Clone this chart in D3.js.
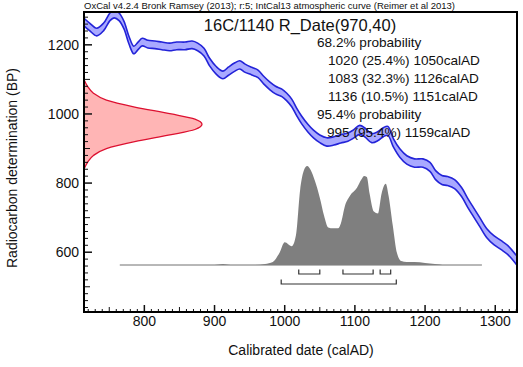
<!DOCTYPE html>
<html lang="en">
<head>
<meta charset="UTF-8">
<title>R_Date calibration</title>
<script src="https://d3js.org/d3.v7.min.js"></script>
<style>
    body { margin: 0; background: #fff; font-family: "Liberation Sans", Arial, sans-serif; }
    svg { display: block; }
    text { fill: #111; }
</style>
</head>
<body>
<svg id="chart" width="523" height="367"></svg>
<script>
// IntCal13 curve (cal AD, BP, 1 sigma)
const calYears = [714, 722, 732, 742, 751, 757, 764, 771, 778, 785, 791, 797, 805, 815, 825, 836, 846, 858, 868, 876,
    885, 893, 902, 912, 920, 929, 936, 943, 953, 962, 970, 979, 987, 996, 1003, 1010, 1017, 1024, 1033, 1041,
    1050, 1060, 1070, 1080, 1090, 1098, 1107, 1115, 1124, 1133, 1141, 1147, 1155, 1164, 1174, 1185, 1197, 1207, 1215, 1224,
    1232, 1242, 1252, 1261, 1269, 1278, 1288, 1298, 1308, 1318, 1331];
const calBP = [1266, 1252, 1237, 1252, 1281, 1289, 1281, 1257, 1214, 1185, 1197, 1208, 1202, 1200, 1197, 1194, 1197, 1197, 1200, 1194,
    1179, 1150, 1127, 1113, 1124, 1136, 1142, 1133, 1124, 1116, 1098, 1081, 1069, 1061, 1049, 1032, 1006, 983, 959, 942,
    928, 919, 922, 928, 933, 942, 954, 945, 930, 936, 948, 951, 916, 887, 867, 858, 858, 847, 823, 809,
    806, 797, 774, 742, 716, 687, 655, 635, 621, 606, 575];
const calSigma = [11, 11, 11, 11, 11, 11, 11, 11, 11, 11, 11, 11, 11, 11, 11, 11, 11, 11, 11, 11,
    11, 11, 11, 11, 12, 12, 12, 12, 11, 11, 11, 11, 11, 11, 11, 11, 11, 11, 11, 11,
    11, 12, 12, 12, 12, 12, 13, 13, 13, 13, 13, 13, 12, 12, 12, 12, 12, 13, 13, 13,
    13, 13, 13, 13, 13, 13, 13, 13, 13, 13, 13];

// Radiocarbon measurement 970 +/- 40 BP, relative density
const dateBP = [1100, 1080, 1060, 1040, 1020, 1000, 985, 970, 955, 940, 920, 900, 880, 860, 840];
const dateDensity = [0.0, 0.03, 0.08, 0.19, 0.43, 0.74, 0.94, 1.0, 0.94, 0.74, 0.43, 0.19, 0.08, 0.03, 0.0];

// Calibrated probability, relative
const postYears = [765, 880, 900, 912, 923, 958, 972, 983, 993, 1000, 1010, 1016, 1022, 1027, 1032, 1037, 1043, 1050, 1056, 1062,
    1069, 1076, 1080, 1086, 1093, 1103, 1109, 1113, 1117, 1121, 1127, 1133, 1138, 1144, 1148, 1154, 1160, 1166, 1174, 1185,
    1200, 1214, 1228, 1281];
const postProb = [0, 0, 0, 0.01, 0, 0, 0.01, 0.03, 0.13, 0.23, 0.19, 0.30, 0.76, 0.95, 1.0, 0.96, 0.85, 0.68, 0.50, 0.38,
    0.37, 0.37, 0.42, 0.60, 0.70, 0.78, 0.86, 0.90, 0.89, 0.72, 0.54, 0.52, 0.72, 0.82, 0.70, 0.40, 0.12, 0.04, 0.03, 0.03,
    0.02, 0.01, 0, 0];

const ranges68 = [[1020, 1050], [1083, 1126], [1136, 1151]];
const ranges95 = [[995, 1159]];

const headerText = "OxCal v4.2.4 Bronk Ramsey (2013); r:5; IntCal13 atmospheric curve (Reimer et al 2013)";
const titleText = "16C/1140 R_Date(970,40)";
const rangeLines = ["68.2% probability", "1020 (25.4%) 1050calAD", "1083 (32.3%) 1126calAD", "1136 (10.5%) 1151calAD",
    "95.4% probability", "995 (95.4%) 1159calAD"];
const xTicks = [800, 900, 1000, 1100, 1200, 1300];
const yTicks = [600, 800, 1000, 1200];

const svg = d3.select("#chart");
const pL = 84, pR = 517, pT = 12, pB = 312;

const x = d3.scaleLinear().domain([714, 1331]).range([pL, pR]);
const y = d3.scaleLinear().domain([427, 1295]).range([pB, pT]);
const dens = d3.scaleLinear().domain([0, 1]).range([pL, 202]);
const prob = d3.scaleLinear().domain([0, 1]).range([265, 166]);

svg.append("clipPath").attr("id", "plot")
    .append("rect").attr("x", pL).attr("y", pT).attr("width", pR - pL).attr("height", pB - pT);
const plot = svg.append("g").attr("clip-path", "url(#plot)");

// calibration curve band
const cal = calYears.map((yr, i) => ({ yr, bp: calBP[i], sd: calSigma[i] }));
plot.append("path").datum(cal)
    .attr("fill", "#a9a9ff")
    .attr("d", d3.area().x(d => x(d.yr)).y0(d => y(d.bp - d.sd)).y1(d => y(d.bp + d.sd)).curve(d3.curveCatmullRom));
[1, -1].forEach(s => {
    plot.append("path").datum(cal)
        .attr("fill", "none").attr("stroke", "#2323d8").attr("stroke-width", 1.6)
        .attr("d", d3.line().x(d => x(d.yr)).y(d => y(d.bp + s * d.sd)).curve(d3.curveCatmullRom));
});

// radiocarbon date on the y axis
const dd = dateBP.map((bp, i) => ({ bp, p: dateDensity[i] }));
plot.append("path").datum(dd)
    .attr("fill", "#ffb5b5")
    .attr("d", d3.area().y(d => y(d.bp)).x0(dens(0)).x1(d => dens(d.p)).curve(d3.curveMonotoneY));
plot.append("path").datum(dd)
    .attr("fill", "none").attr("stroke", "#dd1030").attr("stroke-width", 1.3)
    .attr("d", d3.line().y(d => y(d.bp)).x(d => dens(d.p)).curve(d3.curveMonotoneY));

// calibrated distribution
const post = postYears.map((yr, i) => ({ yr, p: postProb[i] }));
plot.append("line")
    .attr("x1", x(postYears[0])).attr("x2", x(postYears[postYears.length - 1]))
    .attr("y1", prob(0)).attr("y2", prob(0))
    .attr("stroke", "#707070").attr("stroke-width", 1);
plot.append("path").datum(post)
    .attr("fill", "#7f7f7f")
    .attr("d", d3.area().x(d => x(d.yr)).y0(prob(0)).y1(d => prob(d.p)).curve(d3.curveMonotoneX));

// range brackets
function bracket(ranges, yy) {
    ranges.forEach(r => {
        svg.append("path")
            .attr("d", `M${x(r[0])},${yy - 4.5}V${yy}H${x(r[1])}V${yy - 4.5}`)
            .attr("fill", "none").attr("stroke", "#333").attr("stroke-width", 1.2);
    });
}
bracket(ranges68, 274);
bracket(ranges95, 284);

// ticks, drawn inside the frame
const xt = svg.append("g").attr("stroke", "#111");
d3.range(720, 1331, 10).forEach(v => {
    const len = v % 100 === 0 ? 7 : (v % 50 === 0 ? 5 : 3);
    xt.append("line").attr("x1", x(v)).attr("x2", x(v)).attr("y1", pB).attr("y2", pB - len)
        .attr("stroke-width", v % 100 === 0 ? 1.5 : 1);
});
const yt = svg.append("g").attr("stroke", "#111");
d3.range(440, 1295, 20).forEach(v => {
    const len = v % 200 === 0 ? 8 : (v % 100 === 0 ? 6 : 4);
    yt.append("line").attr("x1", pL).attr("x2", pL + len).attr("y1", y(v)).attr("y2", y(v))
        .attr("stroke-width", v % 200 === 0 ? 1.5 : 1);
});

svg.append("rect").attr("x", pL).attr("y", pT).attr("width", pR - pL).attr("height", pB - pT)
    .attr("fill", "none").attr("stroke", "#000").attr("stroke-width", 2);

// tick labels
svg.selectAll(".xl").data(xTicks).join("text")
    .attr("x", d => x(d)).attr("y", 326).attr("text-anchor", "middle")
    .style("font-size", "14px").text(d => d);
svg.selectAll(".yl").data(yTicks).join("text")
    .attr("x", 79).attr("y", d => y(d) + 5).attr("text-anchor", "end")
    .style("font-size", "14px").text(d => d);

// axis titles
svg.append("text").attr("x", 301).attr("y", 355).attr("text-anchor", "middle")
    .style("font-size", "14px").text("Calibrated date (calAD)");
svg.append("text").attr("transform", "translate(17,168) rotate(-90)").attr("text-anchor", "middle")
    .style("font-size", "14px").text("Radiocarbon determination (BP)");

// header and title
svg.append("text").attr("x", 84).attr("y", 9)
    .attr("textLength", 371).attr("lengthAdjust", "spacingAndGlyphs")
    .style("font-size", "9px").text(headerText);
svg.append("text").attr("x", 300).attr("y", 31).attr("text-anchor", "middle")
    .style("font-size", "16.5px").text(titleText);

svg.selectAll(".rl").data(rangeLines).join("text")
    .attr("x", d => d.includes("probability") ? 317 : (d.startsWith("995") ? 327 : 328))
    .attr("y", (d, i) => 47 + i * 18)
    .style("font-size", "13.6px").text(d => d);
</script>
</body>
</html>
